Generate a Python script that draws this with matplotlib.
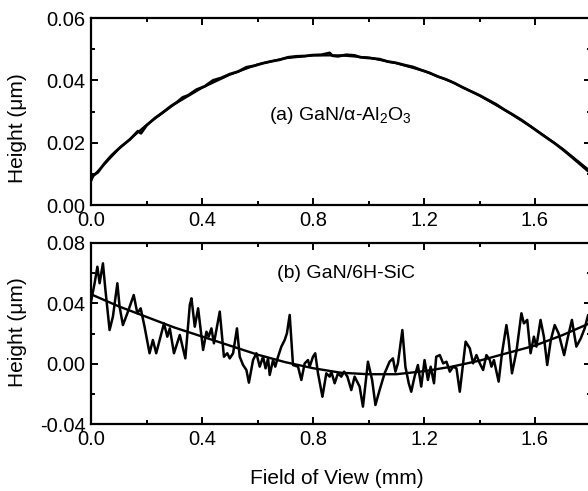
import numpy as np
import matplotlib
matplotlib.use("Agg")
from matplotlib import pyplot as plt
from matplotlib.ticker import MultipleLocator, FormatStrFormatter

plt.rcParams['font.family'] = ['Liberation Sans', 'DejaVu Sans']
plt.rcParams['mathtext.default'] = 'regular'
plt.rcParams['axes.unicode_minus'] = False

# (a) GaN on sapphire: measured profile and fit
top_x = [0.000, 0.008, 0.025, 0.049, 0.075, 0.109, 0.140, 0.169, 0.180, 0.200,
         0.229, 0.260, 0.289, 0.310, 0.330, 0.350, 0.380, 0.410, 0.440, 0.470,
         0.500, 0.530, 0.560, 0.590, 0.620, 0.650, 0.680, 0.710, 0.740, 0.770,
         0.800, 0.830, 0.860, 0.870, 0.890, 0.920, 0.950, 0.970, 1.010, 1.040,
         1.070, 1.100, 1.130, 1.160, 1.190, 1.220, 1.250, 1.280, 1.310, 1.340,
         1.371, 1.400, 1.431, 1.460, 1.491, 1.520, 1.551, 1.580, 1.611, 1.640,
         1.671, 1.700, 1.731, 1.760, 1.790]
top_y = [0.0078, 0.0095, 0.0105, 0.0134, 0.0160, 0.0188, 0.0210, 0.0237, 0.0230, 0.0255,
         0.0278, 0.0298, 0.0318, 0.0330, 0.0345, 0.0352, 0.0370, 0.0381, 0.0400, 0.0408,
         0.0420, 0.0428, 0.0442, 0.0447, 0.0455, 0.0461, 0.0466, 0.0474, 0.0477, 0.0478,
         0.0481, 0.0482, 0.0488, 0.0479, 0.0477, 0.0482, 0.0480, 0.0474, 0.0471, 0.0468,
         0.0460, 0.0456, 0.0449, 0.0443, 0.0433, 0.0424, 0.0412, 0.0403, 0.0391, 0.0377,
         0.0364, 0.0352, 0.0337, 0.0323, 0.0305, 0.0290, 0.0273, 0.0255, 0.0235, 0.0217,
         0.0198, 0.0178, 0.0155, 0.0133, 0.0110]
top_fit_x = [0.0, 0.1, 0.2, 0.3, 0.4, 0.5, 0.6, 0.7, 0.8, 0.9,
             1.0, 1.1, 1.2, 1.3, 1.4, 1.5, 1.6, 1.7, 1.8]
top_fit_y = [0.0085, 0.0180, 0.0257, 0.0323, 0.0376, 0.0418, 0.0451, 0.0471, 0.0480, 0.0480,
             0.0473, 0.0455, 0.0430, 0.0395, 0.0351, 0.0300, 0.0243, 0.0180, 0.0108]

# (b) GaN on 6H-SiC: measured profile and fit
bot_x = [0.000, 0.013, 0.023, 0.031, 0.043, 0.052, 0.067, 0.079, 0.095, 0.103,
         0.115, 0.131, 0.154, 0.167, 0.179, 0.193, 0.211, 0.223, 0.235, 0.263,
         0.275, 0.284, 0.299, 0.320, 0.340, 0.356, 0.362, 0.374, 0.386, 0.404,
         0.416, 0.424, 0.434, 0.443, 0.464, 0.479, 0.491, 0.500, 0.512, 0.526,
         0.536, 0.548, 0.560, 0.569, 0.584, 0.596, 0.608, 0.620, 0.629, 0.638,
         0.644, 0.656, 0.664, 0.674, 0.686, 0.698, 0.706, 0.716, 0.728, 0.746,
         0.758, 0.770, 0.782, 0.788, 0.800, 0.808, 0.818, 0.834, 0.848, 0.860,
         0.866, 0.878, 0.890, 0.902, 0.912, 0.924, 0.938, 0.950, 0.968, 0.980,
         0.998, 1.013, 1.025, 1.040, 1.058, 1.076, 1.088, 1.097, 1.106, 1.122,
         1.133, 1.145, 1.154, 1.166, 1.178, 1.190, 1.202, 1.214, 1.224, 1.236,
         1.244, 1.257, 1.269, 1.281, 1.293, 1.305, 1.317, 1.329, 1.341, 1.350,
         1.365, 1.377, 1.389, 1.401, 1.413, 1.425, 1.437, 1.443, 1.452, 1.461,
         1.469, 1.481, 1.497, 1.505, 1.517, 1.533, 1.551, 1.560, 1.572, 1.584,
         1.596, 1.605, 1.620, 1.632, 1.644, 1.657, 1.671, 1.685, 1.705, 1.719,
         1.733, 1.749, 1.765, 1.779, 1.791]
bot_y = [0.0411, 0.0533, 0.0643, 0.0533, 0.0665, 0.0488, 0.0223, 0.0312, 0.0533, 0.0378,
         0.0256, 0.0334, 0.0455, 0.0334, 0.0367, 0.0245, 0.0069, 0.0157, 0.0069, 0.0267,
         0.0179, 0.0234, 0.0069, 0.0190, 0.0035, 0.0389, 0.0433, 0.0245, 0.0367, 0.0091,
         0.0212, 0.0179, 0.0234, 0.0135, 0.0345, 0.0046, 0.0069, 0.0035, 0.0069, 0.0234,
         0.0046, -0.0009, -0.0042, -0.0126, 0.0024, 0.0069, -0.0020, 0.0046, -0.0031, 0.0035,
         -0.0075, 0.0024, -0.0020, 0.0046, 0.0113, 0.0157, 0.0201, 0.0323, -0.0009, -0.0020,
         -0.0108, 0.0002, 0.0024, -0.0020, 0.0046, 0.0069, -0.0064, -0.0219, -0.0064, -0.0086,
         -0.0053, -0.0130, -0.0064, -0.0086, -0.0053, -0.0086, -0.0175, -0.0086, -0.0152, -0.0285,
         0.0013, -0.0108, -0.0274, -0.0175, -0.0064, 0.0013, 0.0035, -0.0053, 0.0002, 0.0223,
         -0.0020, -0.0130, -0.0186, -0.0086, -0.0009, -0.0152, 0.0024, -0.0108, -0.0020, -0.0130,
         0.0046, 0.0057, 0.0002, 0.0013, -0.0053, -0.0020, -0.0031, -0.0186, 0.0002, 0.0146,
         0.0102, 0.0002, 0.0057, 0.0002, -0.0042, 0.0057, 0.0024, -0.0020, 0.0024, -0.0053,
         -0.0119, 0.0069, 0.0256, 0.0157, -0.0064, 0.0080, 0.0334, 0.0267, 0.0290, 0.0069,
         0.0179, 0.0113, 0.0290, 0.0179, -0.0009, 0.0157, 0.0256, 0.0201, 0.0057, 0.0179,
         0.0290, 0.0113, 0.0168, 0.0234, 0.0320]
bot_fit_x = [0.0, 0.1, 0.2, 0.3, 0.4, 0.5, 0.6, 0.7, 0.8, 0.9,
             1.0, 1.1, 1.2, 1.3, 1.4, 1.5, 1.6, 1.7, 1.8]
bot_fit_y = [0.046, 0.038, 0.031, 0.024, 0.018, 0.012, 0.006, 0.001, -0.003, -0.006,
             -0.007, -0.007, -0.005, -0.002, 0.002, 0.007, 0.012, 0.019, 0.027]

fig = plt.figure(figsize=(5.88, 4.91), dpi=100)
ax1 = fig.add_axes([91/588, 1 - 205/491, 499.5/588, 187/491])
ax2 = fig.add_axes([91/588, 1 - 424/491, 499.5/588, 181/491])

ax1.plot(top_x, top_y, color='black', lw=2.0)
ax1.plot(top_fit_x, top_fit_y, color='black', lw=1.6)
ax2.plot(bot_x, bot_y, color='black', lw=1.8)
ax2.plot(bot_fit_x, bot_fit_y, color='black', lw=1.7)

ax1.set_ylim(0.0, 0.06)
ax1.yaxis.set_major_locator(MultipleLocator(0.02))
ax1.yaxis.set_minor_locator(MultipleLocator(0.01))
ax2.set_ylim(-0.04, 0.08)
ax2.yaxis.set_major_locator(MultipleLocator(0.04))
ax2.yaxis.set_minor_locator(MultipleLocator(0.02))

for ax in (ax1, ax2):
    ax.set_xlim(0.0, 1.8)
    ax.xaxis.set_major_locator(MultipleLocator(0.4))
    ax.xaxis.set_minor_locator(MultipleLocator(0.2))
    ax.xaxis.set_major_formatter(FormatStrFormatter('%.1f'))
    ax.yaxis.set_major_formatter(FormatStrFormatter('%.2f'))
    ax.tick_params(which='both', direction='in', top=True, right=True,
                   width=1.4, labelsize=14.5, colors='black')
    ax.tick_params(which='major', length=5)
    ax.tick_params(which='minor', length=3)
    ax.tick_params(axis='y', pad=4)
    ax.tick_params(axis='x', pad=4)
    for s in ax.spines.values():
        s.set_linewidth(1.6)
    ax.set_ylabel('Height (μm)', fontsize=15)

ax1.yaxis.set_label_coords(-0.128, 0.41)
ax2.yaxis.set_label_coords(-0.128, 0.508)

ax1.text(0.641, 0.0286, '(a) GaN/α-Al$_2$O$_3$', fontsize=14, ha='left', va='center')
ax2.text(0.670, 0.060, '(b) GaN/6H-SiC', fontsize=14, ha='left', va='center')

ax2.set_xlabel('Field of View (mm)', fontsize=15)
ax2.xaxis.set_label_coords(0.4925, -0.25)

fig.savefig('out.png', dpi=100)
